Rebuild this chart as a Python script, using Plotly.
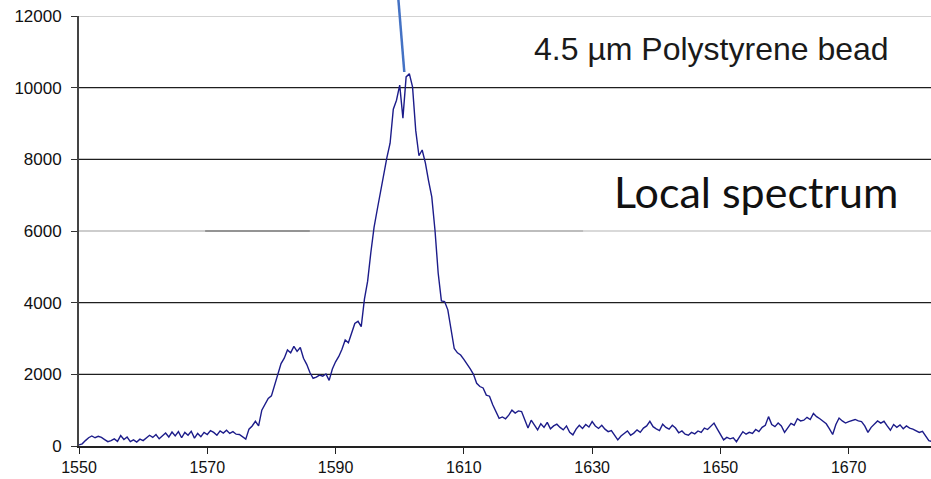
import numpy as np
import plotly.graph_objects as go

# Raman spectrum of a 4.5 um polystyrene bead, sampled every 0.5 cm^-1
WAVENUMBER_START = 1550.0
WAVENUMBER_STEP = 0.5
INTENSITY = [
    30, 60, 150, 230, 280, 230, 270, 240, 180, 120,
    150, 200, 130, 290, 180, 250, 120, 170, 110, 190,
    150, 230, 300, 240, 320, 200, 280, 360, 250, 390,
    280, 400, 230, 380, 300, 410, 220, 350, 260, 380,
    320, 430, 380, 300, 420, 360, 440, 350, 400, 330,
    320, 260, 190, 470, 560, 690, 560, 1000, 1150, 1330,
    1400, 1700, 2000, 2300, 2450, 2680, 2600, 2780, 2640, 2750,
    2450, 2280, 2050, 1890, 1920, 1980, 1950, 2010, 1830, 2150,
    2350, 2500, 2700, 2960, 2880, 3140, 3420, 3480, 3330, 4100,
    4600, 5400, 6100, 6600, 7100, 7500, 8050, 8450, 9400, 9650,
    10070, 9150, 10300, 10390, 10020, 8800, 8100, 8260, 7900, 7400,
    6950, 6020, 4820, 4050, 4030, 3800, 3200, 2720, 2600, 2540,
    2420, 2300, 2150, 2000, 1750, 1660, 1620, 1420, 1390, 1150,
    960, 770, 810, 760, 860, 1000, 920, 980, 960, 700,
    500, 720, 600, 450, 620, 520, 660, 480, 560, 610,
    520, 450, 560, 380, 310, 470, 580, 490, 600, 530,
    680, 560, 490, 580, 470, 400, 430, 300, 170, 280,
    350, 420, 300, 360, 450, 380, 500, 560, 690, 540,
    480, 430, 610, 520, 470, 580, 500, 370, 420, 330,
    300, 380, 340, 420, 380, 500, 460, 560, 640, 480,
    330, 170, 240, 200, 230, 120, 260, 400, 330, 380,
    350, 460, 400, 520, 580, 820, 600, 540, 640, 560,
    380, 500, 630, 580, 760, 700, 720, 800, 740, 910,
    820, 760, 700, 620, 480, 320, 600, 780, 700, 640,
    680, 720, 740, 700, 680, 560, 380, 520, 620, 700,
    640, 690, 560, 440, 600, 520, 590, 480, 560, 500,
    470, 420, 380, 410, 260, 150, 120,
]
X_TICKS = [1550, 1570, 1590, 1610, 1630, 1650, 1670]
Y_TICKS = [0, 2000, 4000, 6000, 8000, 10000, 12000]

wavenumber = WAVENUMBER_START + WAVENUMBER_STEP * np.arange(len(INTENSITY))

fig = go.Figure()
fig.add_trace(go.Scatter(
    x=wavenumber, y=INTENSITY, mode="lines",
    line=dict(color="#1c1c8a", width=1.4),
    hoverinfo="skip", showlegend=False,
))

# horizontal gridlines drawn as shapes so each can carry its own shade
grid_color = {0: None, 2000: "#1e1e1e", 4000: "#1e1e1e", 6000: None,
              8000: "#1e1e1e", 10000: "#1e1e1e", 12000: "#a8a8a8"}
shapes = []
for v in Y_TICKS:
    c = grid_color[v]
    if c:
        shapes.append(dict(type="line", xref="paper", yref="y", x0=0, x1=1,
                           y0=v, y1=v, line=dict(color=c, width=1.2), layer="below"))
# the 6000 line fades in and out along its length
for x0, x1, c in [(0.0, 0.148, "#9c9c9c"), (0.148, 0.271, "#2a2a2a"),
                  (0.271, 0.592, "#7c7c7c"), (0.592, 1.0, "#b4b4b4")]:
    shapes.append(dict(type="line", xref="paper", yref="y", x0=x0, x1=x1,
                       y0=6000, y1=6000, line=dict(color=c, width=1.2), layer="below"))
# pointer to the main band
shapes.append(dict(type="line", xref="paper", yref="paper",
                   x0=0.3748, y0=1.04, x1=0.3818, y1=0.8698,
                   line=dict(color="#4472c4", width=2.5)))

fig.update_layout(
    width=931, height=479,
    margin=dict(l=79, r=0, t=16, b=33),
    paper_bgcolor="white", plot_bgcolor="white",
    shapes=shapes,
    xaxis=dict(
        range=[1550, 1682.83], tickvals=X_TICKS, ticktext=[str(t) for t in X_TICKS],
        showgrid=False, zeroline=False, automargin=False,
        showline=True, linecolor="#222", linewidth=1.5,
        ticks="outside", ticklen=6, tickcolor="#222", tickwidth=1.2,
        ticklabelstandoff=0,
        tickfont=dict(family="Liberation Sans", size=16, color="#111"),
    ),
    yaxis=dict(
        range=[0, 12000], tickvals=Y_TICKS, ticktext=[str(t) for t in Y_TICKS],
        showgrid=False, zeroline=False, automargin=False,
        showline=True, linecolor="#444", linewidth=1.8,
        ticks="outside", ticklen=6, tickcolor="#333", tickwidth=1.2,
        ticklabelstandoff=6,
        tickfont=dict(family="Liberation Sans", size=17, color="#111"),
    ),
    annotations=[
        dict(text="4.5 µm Polystyrene bead", xref="paper", yref="paper",
             x=0.5317, y=0.9232, xanchor="left", yanchor="middle", showarrow=False,
             font=dict(family="Liberation Sans", size=32, color="#1a1a1a")),
        dict(text="Local spectrum", xref="paper", yref="paper",
             x=0.6256, y=0.5907, xanchor="left", yanchor="middle", showarrow=False,
             font=dict(family="Lato", size=43, color="#111")),
    ],
)

fig.write_html("out.html")
